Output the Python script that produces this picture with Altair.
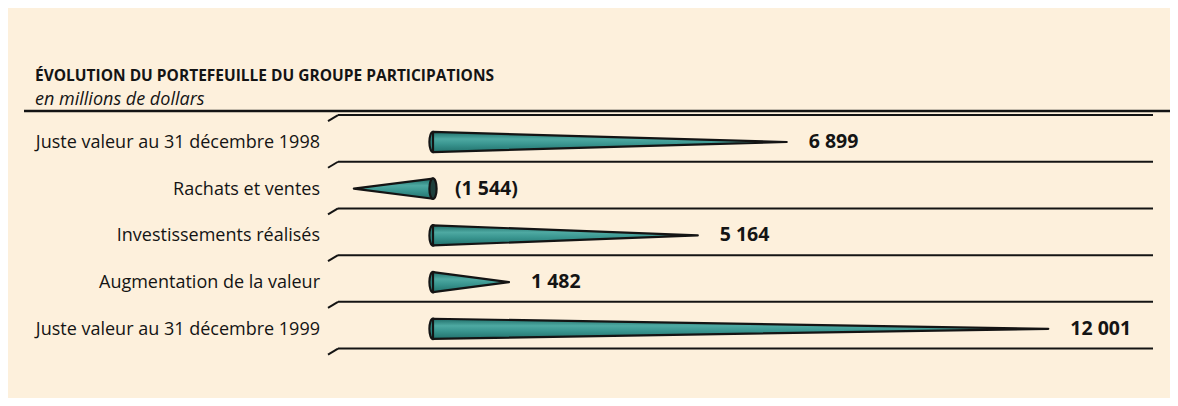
import altair as alt
import pandas as pd

# ---- data ----
title_text = ["ÉVOLUTION DU PORTEFEUILLE DU GROUPE PARTICIPATIONS"]
subtitle_text = ["en millions de dollars"]
categories = [
    "Juste valeur au 31 décembre 1998",
    "Rachats et ventes",
    "Investissements réalisés",
    "Augmentation de la valeur",
    "Juste valeur au 31 décembre 1999",
]
values = [6899, -1544, 5164, 1482, 12001]


def fmt(v):
    s = f"{abs(v):,}".replace(",", " ")
    return f"({s})" if v < 0 else s


# ---- styles ----
BG = "#fdf0dc"
INK = "#141414"
FONT = "Open Sans"
HALF = 0.215  # half cone height in row units

rows = pd.DataFrame({
    "row": list(range(len(categories))),
    "cat": categories,
    "value": values,
    "label": [fmt(v) for v in values],
})
rows["lx"] = rows["value"].clip(lower=0)
rows["zero"] = 0

cone = []
for i, v in enumerate(values):
    cone.append({"row": i, "x": 0, "y": i - HALF, "y2": i + HALF})
    cone.append({"row": i, "x": v, "y": i, "y2": i})
cone = pd.DataFrame(cone)

seps = pd.DataFrame({"s": [i - 0.5 for i in range(len(categories) + 1)]})

W, H = 1162, 390
xs = alt.Scale(domain=[-8289.5, 14374.9], nice=False, zero=False)
ys = alt.Scale(domain=[-2.869, 5.482], nice=False, zero=False, reverse=True)

ELLIPSE = "M0,-1 A0.35,1 0 1,0 0,1 A0.35,1 0 1,0 0,-1 Z"

ell_pos = alt.Chart(rows).transform_filter("datum.value >= 0").mark_point(
    shape=ELLIPSE, size=420, filled=True, fill="#2f8c86", stroke=INK, strokeWidth=2.2, opacity=1,
).encode(x=alt.X("zero:Q", scale=xs, axis=None), y=alt.Y("row:Q", scale=ys, axis=None))

ell_neg = alt.Chart(rows).transform_filter("datum.value < 0").mark_point(
    shape=ELLIPSE, size=420, filled=True, fill="#1d3f3c", stroke=INK, strokeWidth=2.2, opacity=1,
).encode(x=alt.X("zero:Q", scale=xs, axis=None), y=alt.Y("row:Q", scale=ys, axis=None))

grad = alt.LinearGradient(
    gradient="linear",
    stops=[
        alt.GradientStop(color="#1f6e69", offset=0),
        alt.GradientStop(color="#4ea9a2", offset=0.35),
        alt.GradientStop(color="#3a9690", offset=0.6),
        alt.GradientStop(color="#22726d", offset=1),
    ],
    x1=0, x2=0, y1=0, y2=1,
)

cones = alt.Chart(cone).mark_area(
    color=grad, stroke=INK, strokeWidth=2.2, strokeJoin="round", opacity=1
).encode(
    x=alt.X("x:Q", scale=xs, axis=None),
    y=alt.Y("y:Q", scale=ys, axis=None),
    y2="y2:Q",
    detail="row:N",
)

sep_h = alt.Chart(seps).mark_rule(color=INK, strokeWidth=2, yOffset=-3.6).encode(
    x=alt.value(330), x2=alt.value(1145), y=alt.Y("s:Q", scale=ys, axis=None)
)
sep_s = alt.Chart(seps).mark_rule(color=INK, strokeWidth=2, yOffset=-3.6, y2Offset=2.4).encode(
    x=alt.value(330), x2=alt.value(320), y=alt.Y("s:Q", scale=ys, axis=None), y2="s:Q"
)

main_line = alt.Chart(pd.DataFrame({"a": [0]})).mark_rule(color=INK, strokeWidth=2.5).encode(
    x=alt.value(16), x2=alt.value(W), y=alt.value(103)
)

title = alt.Chart(pd.DataFrame({"t": title_text})).mark_text(
    align="left", baseline="alphabetic", font=FONT, fontSize=15.5, fontWeight="bold", color=INK
).encode(x=alt.value(27), y=alt.value(73), text="t:N")

subtitle = alt.Chart(pd.DataFrame({"t": subtitle_text})).mark_text(
    align="left", baseline="alphabetic", font=FONT, fontSize=18, fontStyle="italic", color=INK
).encode(x=alt.value(27), y=alt.value(97), text="t:N")

cat_labels = alt.Chart(rows).mark_text(
    align="right", baseline="middle", font=FONT, fontSize=18, color=INK, dy=1
).encode(x=alt.value(312), y=alt.Y("row:Q", scale=ys, axis=None), text="cat:N")

val_labels = alt.Chart(rows).mark_text(
    align="left", baseline="middle", font=FONT, fontSize=19.5, fontWeight="bold", color=INK, dx=22
).encode(x=alt.X("lx:Q", scale=xs, axis=None), y=alt.Y("row:Q", scale=ys, axis=None), text="label:N")

chart = alt.layer(
    main_line, sep_h, sep_s, ell_pos, cones, ell_neg, title, subtitle, cat_labels, val_labels
).properties(
    width=W, height=H, background=BG, padding=0, autosize=alt.AutoSizeParams(type="none")
).configure_view(stroke=None)

chart.save("out.html", embed_options={"renderer": "svg", "actions": False})
